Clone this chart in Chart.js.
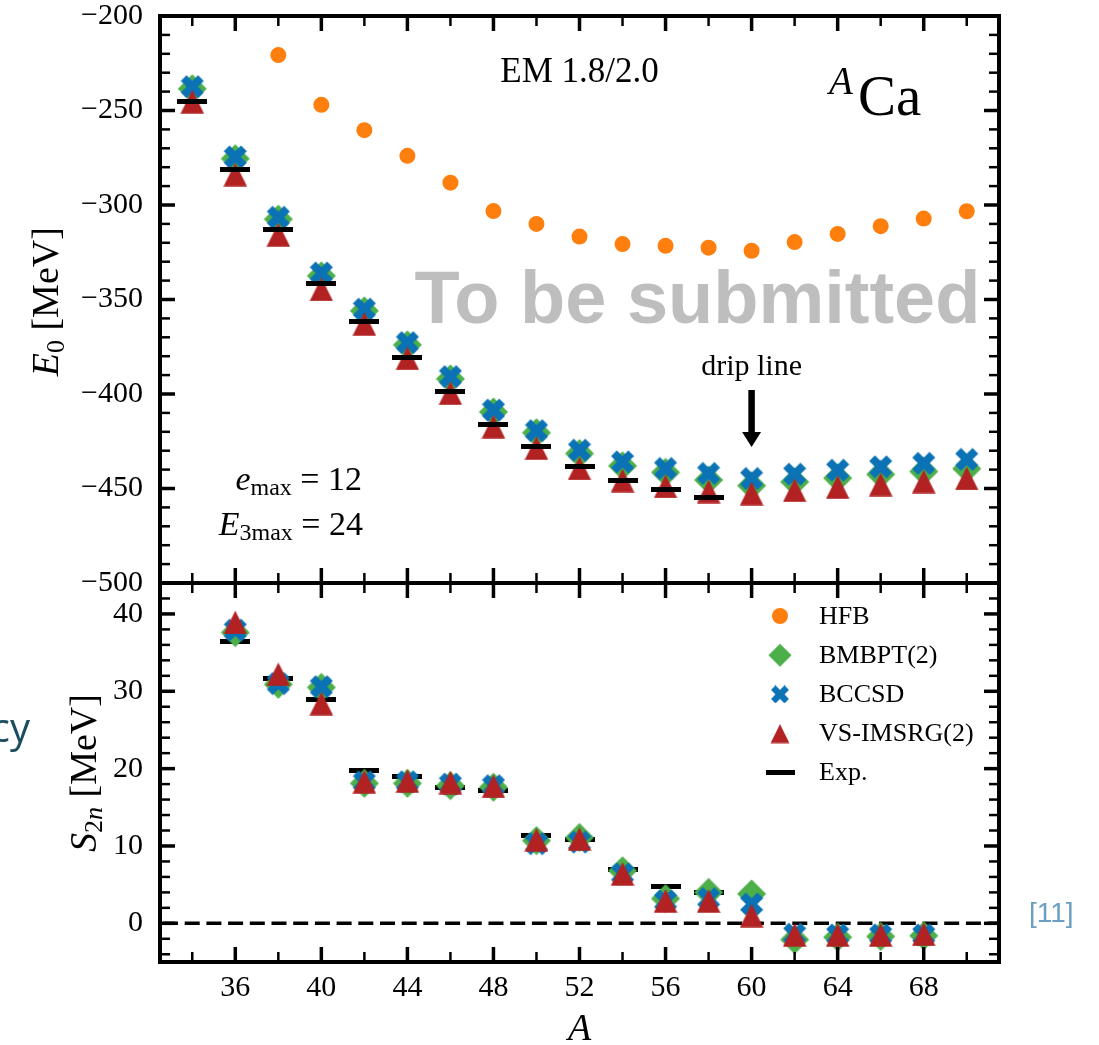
<!DOCTYPE html>
<html>
<head>
<meta charset="utf-8">
<script src="https://cdn.jsdelivr.net/npm/chart.js@4/dist/chart.umd.min.js"></script>
<style>
  body { margin: 0; background: #fff; }
  #wrap { position: relative; width: 1099px; height: 1045px; background: #fff; }
  #wrap canvas { position: absolute; left: 0; top: 0; }
</style>
</head>
<body>
<div id="wrap">
  <canvas id="e0-chart" width="1099" height="1045"></canvas>
  <canvas id="s2n-chart" width="1099" height="1045"></canvas>
</div>
<script>
// Datos: energia del estado fundamental E0 (MeV) para los isotopos de Ca
const massA = [34, 36, 38, 40, 42, 44, 46, 48, 50, 52, 54, 56, 58, 60, 62, 64, 66, 68, 70];
const hfbE0 = [null, null, -220.7, -247.0, -260.4, -274.0, -288.2, -303.2, -310.0, -316.7, -320.7, -321.6, -322.6, -324.2, -319.6, -315.3, -311.2, -307.2, -303.3];
const bmbptE0 = [-238.5, -275.5, -307.5, -337.5, -356.0, -374.0, -392.0, -409.5, -420.5, -431.5, -438.0, -441.5, -445.5, -448.5, -446.5, -444.5, -442.5, -441.0, -439.5];
const bccsdE0 = [-237.4, -274.6, -306.5, -336.0, -355.1, -372.8, -390.8, -408.5, -419.4, -429.7, -435.9, -439.4, -442.0, -444.7, -442.4, -440.3, -438.5, -436.7, -434.6];
const imsrgE0 = [-245.4, -283.9, -315.8, -344.7, -362.9, -381.1, -399.6, -417.3, -428.6, -439.4, -445.8, -448.9, -451.6, -452.7, -450.9, -449.3, -447.9, -446.3, -444.7];
const expE0 = [-245.1, -281.2, -313.0, -341.6, -361.7, -380.7, -398.8, -415.9, -427.6, -438.5, -445.6, -450.4, -454.8, null, null, null, null, null, null];

// Energia de separacion de dos neutrones S2n (MeV)
const massS2n = [36, 38, 40, 42, 44, 46, 48, 50, 52, 54, 56, 58, 60, 62, 64, 66, 68];
const bmbptS2n = [37.6, 30.9, 30.5, 18.1, 18.1, 17.8, 17.6, 10.7, 11.1, 6.8, 3.2, 4.0, 3.8, -2.1, -1.8, -1.7, -1.6];
const bccsdS2n = [37.9, 31.0, 30.6, 18.3, 18.3, 18.0, 17.8, 10.3, 10.5, 6.4, 2.9, 3.2, 2.5, -1.4, -1.5, -1.5, -1.5];
const imsrgS2n = [38.9, 32.2, 28.4, 18.3, 18.4, 18.2, 17.7, 10.8, 10.9, 6.4, 2.9, 2.9, 1.0, -1.5, -1.5, -1.5, -1.4];
const expS2n = [36.4, 31.7, 28.9, 19.8, 19.0, 17.6, 17.2, 11.4, 10.8, 7.0, 4.8, 4.0, null, null, null, null, null];

// Ejes
const xTickLabels = [36, 40, 44, 48, 52, 56, 60, 64, 68];
const xMinorTicks = [34, 38, 42, 46, 50, 54, 58, 62, 66, 70];
const e0TickLabels = [-500, -450, -400, -350, -300, -250, -200];
const s2nTickLabels = [0, 10, 20, 30, 40];
const legendLabels = ["HFB", "BMBPT(2)", "BCCSD", "VS-IMSRG(2)", "Exp."];

const SERIF = "'Liberation Serif', 'Times New Roman', serif";
const SANS = "'Liberation Sans', Arial, sans-serif";
Chart.defaults.font.family = SERIF;
Chart.defaults.color = "#000";

const colores = { hfb: "#ff7f0e", bmbpt: "#4daf4a", bccsd: "#0b72b5", imsrg: "#b22222", exp: "#000" };

function range(a, b, step) {
  const r = [];
  for (let v = a; v <= b + 1e-9; v += step) r.push(v);
  return r;
}
const e0MinorTicks = range(-490, -210, 10).filter((v) => v % 50 !== 0);
const s2nMinorTicks = range(-4, 42, 2).filter((v) => v % 10 !== 0);

// Marcadores al estilo matplotlib dibujados en un canvas
function crearMarcador(tipo, color, escala) {
  const k = escala || 1;
  const c = document.createElement("canvas");
  let w, h;
  if (tipo === "bar") { w = Math.round(30 * k); h = 5; }
  else if (tipo === "diamond") { w = h = Math.round(30 * k / 2) * 2; }
  else { w = h = Math.round(24 * k / 2) * 2; }
  c.width = w; c.height = h;
  const g = c.getContext("2d");
  g.fillStyle = color;
  g.translate(w / 2, h / 2);
  g.beginPath();
  if (tipo === "bar") {
    g.rect(-w / 2, -h / 2, w, h);
  } else if (tipo === "tri") {
    const s = 23.5 * k / 2;
    g.moveTo(0, -s); g.lineTo(-s, s); g.lineTo(s, s);
  } else if (tipo === "diamond") {
    const r = 20.5 * k * Math.SQRT2 / 2;
    g.moveTo(0, -r); g.lineTo(r, 0); g.lineTo(0, r); g.lineTo(-r, 0);
  } else if (tipo === "x") {
    const s = 23 * k / 4;
    const v = [[-1, -2], [0, -1], [1, -2], [2, -1], [1, 0], [2, 1], [1, 2], [0, 1], [-1, 2], [-2, 1], [-1, 0], [-2, -1]];
    v.forEach((p, i) => (i ? g.lineTo(p[0] * s, p[1] * s) : g.moveTo(p[0] * s, p[1] * s)));
  }
  g.closePath();
  g.fill();
  return c;
}

const marcas = {
  bmbpt: crearMarcador("diamond", colores.bmbpt),
  bccsd: crearMarcador("x", colores.bccsd),
  imsrg: crearMarcador("tri", colores.imsrg),
  exp: crearMarcador("bar", colores.exp),
};
const marcasLeyenda = [
  null,
  crearMarcador("diamond", colores.bmbpt, 0.8),
  crearMarcador("x", colores.bccsd, 0.78),
  crearMarcador("tri", colores.imsrg, 0.8),
  crearMarcador("bar", colores.exp, 0.95),
];

function puntos(xs, ys) {
  return xs.map((x, i) => ({ x: x, y: ys[i] })).filter((p) => p.y !== null);
}

function serie(label, data, estilo, orden, extra) {
  return Object.assign({
    label: label,
    data: data,
    pointStyle: estilo,
    pointRadius: 12,
    pointHoverRadius: 12,
    borderWidth: 0,
    showLine: false,
    order: orden,
  }, extra || {});
}

const fmt = (v) => (v < 0 ? "\u2212" + Math.abs(v) : String(v));

// Texto con subindices (partes con fuente y desplazamiento)
function textoRico(ctx, partes, x, y, align, angulo) {
  ctx.save();
  ctx.translate(x, y);
  if (angulo) ctx.rotate(angulo);
  ctx.textBaseline = "alphabetic";
  ctx.textAlign = "left";
  let total = 0;
  partes.forEach((p) => { ctx.font = p.font; p.w = ctx.measureText(p.t).width; total += p.w; });
  let cx = align === "center" ? -total / 2 : align === "right" ? -total : 0;
  partes.forEach((p) => {
    ctx.font = p.font;
    ctx.fillStyle = p.color || "#000";
    ctx.fillText(p.t, cx, p.dy || 0);
    cx += p.w;
  });
  ctx.restore();
}

// Marco y marcas de los ejes hacia dentro
function dibujarMarco(chart, yMayor, yMenor) {
  const { ctx, chartArea: a, scales } = chart;
  const x = scales.x, y = scales.y;
  ctx.save();
  ctx.strokeStyle = "#000";
  const linea = (x1, y1, x2, y2) => { ctx.beginPath(); ctx.moveTo(x1, y1); ctx.lineTo(x2, y2); ctx.stroke(); };
  const marcasX = (vals, len, lw) => {
    ctx.lineWidth = lw;
    vals.forEach((v) => {
      const p = x.getPixelForValue(v);
      linea(p, a.top, p, a.top + len);
      linea(p, a.bottom, p, a.bottom - len);
    });
  };
  const marcasY = (vals, len, lw) => {
    ctx.lineWidth = lw;
    vals.forEach((v) => {
      const p = y.getPixelForValue(v);
      linea(a.left, p, a.left + len, p);
      linea(a.right, p, a.right - len, p);
    });
  };
  marcasX(xTickLabels, 15, 3.5);
  marcasX(xMinorTicks, 10, 2.5);
  marcasY(yMayor, 15, 3.5);
  marcasY(yMenor, 10, 2.5);
  ctx.lineWidth = 4;
  ctx.strokeRect(a.left, a.top, a.right - a.left, a.bottom - a.top);
  ctx.restore();
}

function ejeX(mostrar, alto) {
  return {
    type: "linear",
    min: 32.5,
    max: 71.5,
    afterBuildTicks: (s) => { s.ticks = xTickLabels.map((v) => ({ value: v })); },
    ticks: { display: mostrar, font: { size: 30 }, color: "#000", padding: 8 },
    grid: { display: false, drawTicks: false },
    border: { display: false },
    afterFit: (s) => { s.height = alto; s.paddingLeft = 0; s.paddingRight = 0; },
  };
}

function ejeY(min, max, etiquetas) {
  return {
    type: "linear",
    min: min,
    max: max,
    afterBuildTicks: (s) => { s.ticks = etiquetas.map((v) => ({ value: v })); },
    ticks: { font: { size: 30 }, color: "#000", padding: 17, callback: (v) => fmt(v) },
    grid: { display: false, drawTicks: false },
    border: { display: false },
    afterFit: (s) => { s.width = 160; s.paddingTop = 0; s.paddingBottom = 0; },
  };
}

// Panel superior: E0
const pluginE0 = {
  id: "textosE0",
  beforeDatasetsDraw(chart) {
    const ctx = chart.ctx;
    ctx.save();
    ctx.fillStyle = "#bebebe";
    ctx.font = "bold 74px " + SANS;
    ctx.textAlign = "center";
    ctx.textBaseline = "alphabetic";
    ctx.fillText("To be submitted", 697.5, 323);
    ctx.restore();
  },
  afterDatasetsDraw(chart) {
    const ctx = chart.ctx;
    const x = chart.scales.x;
    dibujarMarco(chart, e0TickLabels, e0MinorTicks);

    textoRico(ctx, [{ t: "EM 1.8/2.0", font: "35px " + SERIF }], 579.5, 82, "center");
    textoRico(ctx, [{ t: "A", font: "italic 39px " + SERIF }], 829, 93.5, "left");
    textoRico(ctx, [{ t: "Ca", font: "57px " + SERIF }], 858, 115, "left");
    textoRico(ctx, [
      { t: "e", font: "italic 34px " + SERIF },
      { t: "max", font: "24px " + SERIF, dy: 5 },
      { t: " = 12", font: "34px " + SERIF },
    ], 362, 490, "right");
    textoRico(ctx, [
      { t: "E", font: "italic 34px " + SERIF },
      { t: "3max", font: "24px " + SERIF, dy: 5 },
      { t: " = 24", font: "34px " + SERIF },
    ], 363, 535, "right");

    // Linea de goteo
    const px = x.getPixelForValue(60);
    textoRico(ctx, [{ t: "drip line", font: "30px " + SERIF }], px, 375, "center");
    ctx.save();
    ctx.fillStyle = "#000";
    ctx.fillRect(px - 3.25, 390, 6.5, 43);
    ctx.beginPath();
    ctx.moveTo(px - 9.5, 432);
    ctx.lineTo(px + 9.5, 432);
    ctx.lineTo(px, 447);
    ctx.closePath();
    ctx.fill();
    ctx.restore();

    textoRico(ctx, [
      { t: "E", font: "italic 38px " + SERIF },
      { t: "0", font: "26px " + SERIF, dy: 6 },
      { t: " [MeV]", font: "38px " + SERIF },
    ], 58, 301.7, "center", -Math.PI / 2);
  },
};

new Chart(document.getElementById("e0-chart"), {
  type: "scatter",
  data: {
    datasets: [
      serie("Exp.", puntos(massA, expE0), marcas.exp, 0),
      serie("VS-IMSRG(2)", puntos(massA, imsrgE0), marcas.imsrg, 1),
      serie("BCCSD", puntos(massA, bccsdE0), marcas.bccsd, 2),
      serie("BMBPT(2)", puntos(massA, bmbptE0), marcas.bmbpt, 3),
      serie("HFB", puntos(massA, hfbE0), "circle", 4, { pointRadius: 8, pointHoverRadius: 8, backgroundColor: colores.hfb }),
    ],
  },
  options: {
    responsive: false,
    animation: false,
    events: [],
    layout: { padding: { left: 0, right: 100, top: 16, bottom: 462 } },
    plugins: { legend: { display: false }, tooltip: { enabled: false } },
    scales: { x: ejeX(false, 0), y: ejeY(-500, -200, e0TickLabels) },
  },
  plugins: [pluginE0],
});

// Panel inferior: S2n
const pluginS2n = {
  id: "textosS2n",
  beforeDatasetsDraw(chart) {
    const { ctx, chartArea: a, scales } = chart;
    const y0 = scales.y.getPixelForValue(0);
    ctx.save();
    ctx.strokeStyle = "#000";
    ctx.lineWidth = 3.5;
    ctx.setLineDash([15, 6.7]);
    ctx.beginPath();
    ctx.moveTo(a.left + 3, y0);
    ctx.lineTo(a.right, y0);
    ctx.stroke();
    ctx.restore();
  },
  afterDatasetsDraw(chart) {
    const { ctx, chartArea: a } = chart;
    dibujarMarco(chart, s2nTickLabels, s2nMinorTicks);

    // Leyenda
    legendLabels.forEach((txt, i) => {
      const yy = 616 + i * 39.2;
      const m = marcasLeyenda[i];
      ctx.save();
      if (m) {
        ctx.drawImage(m, 780 - m.width / 2, yy - m.height / 2);
      } else {
        ctx.fillStyle = colores.hfb;
        ctx.beginPath();
        ctx.arc(780, yy, 8, 0, Math.PI * 2);
        ctx.fill();
      }
      ctx.restore();
      textoRico(ctx, [{ t: txt, font: "26px " + SERIF }], 819, yy + 7.5, "left");
    });

    textoRico(ctx, [
      { t: "S", font: "italic 38px " + SERIF },
      { t: "2", font: "26px " + SERIF, dy: 6 },
      { t: "n", font: "italic 26px " + SERIF, dy: 6 },
      { t: " [MeV]", font: "38px " + SERIF },
    ], 96, 773, "center", -Math.PI / 2);

    textoRico(ctx, [{ t: "A", font: "italic 38px " + SERIF }], (a.left + a.right) / 2, 1040, "center");

    textoRico(ctx, [{ t: "cy", font: "40px 'Open Sans', " + SANS, color: "#1b4d5e" }], 30, 742, "right");
    textoRico(ctx, [{ t: "[11]", font: "28px " + SANS, color: "#6b9ec0" }], 1029, 922, "left");
  },
};

new Chart(document.getElementById("s2n-chart"), {
  type: "scatter",
  data: {
    datasets: [
      serie("VS-IMSRG(2)", puntos(massS2n, imsrgS2n), marcas.imsrg, 1),
      serie("BCCSD", puntos(massS2n, bccsdS2n), marcas.bccsd, 2),
      serie("BMBPT(2)", puntos(massS2n, bmbptS2n), marcas.bmbpt, 3),
      serie("Exp.", puntos(massS2n, expS2n), marcas.exp, 4),
    ],
  },
  options: {
    responsive: false,
    animation: false,
    events: [],
    layout: { padding: { left: 0, right: 100, top: 583, bottom: 0 } },
    plugins: { legend: { display: false }, tooltip: { enabled: false } },
    scales: { x: ejeX(true, 83), y: ejeY(-5, 44, s2nTickLabels) },
  },
  plugins: [pluginS2n],
});
</script>
</body>
</html>
